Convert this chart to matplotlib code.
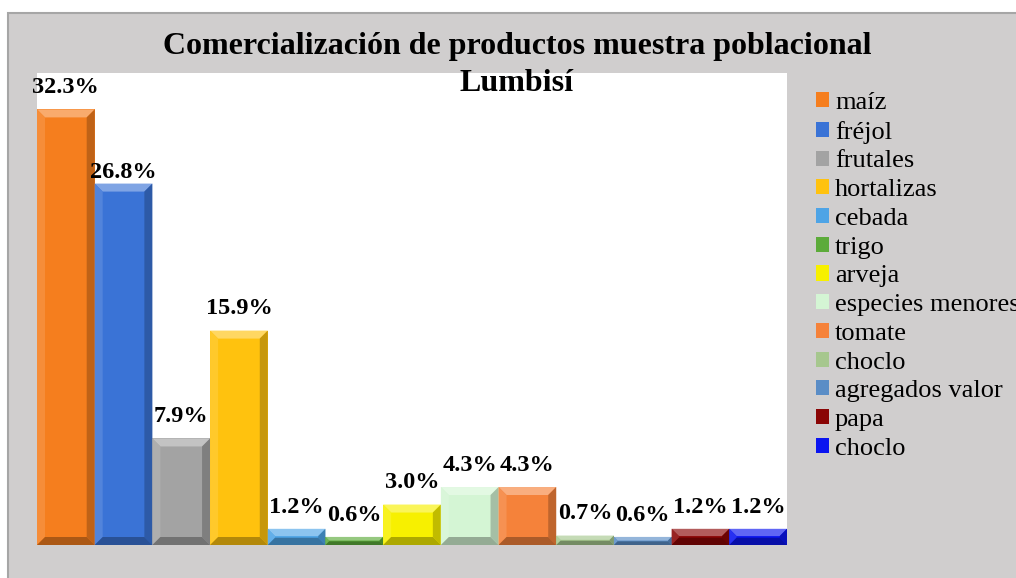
import matplotlib
matplotlib.use("Agg")
import matplotlib.pyplot as plt
from matplotlib.patches import Rectangle, Polygon
import matplotlib.colors as mcolors
import numpy as np

categories = ["maíz", "fréjol", "frutales", "hortalizas", "cebada", "trigo", "arveja",
              "especies menores", "tomate", "choclo", "agregados valor", "papa", "choclo"]
values = [32.3, 26.8, 7.9, 15.9, 1.2, 0.6, 3.0, 4.3, 4.3, 0.7, 0.6, 1.2, 1.2]
value_labels = ["32.3%", "26.8%", "7.9%", "15.9%", "1.2%", "0.6%", "3.0%", "4.3%", "4.3%",
                "0.7%", "0.6%", "1.2%", "1.2%"]
colors = ["#F57E1E", "#3A73D6", "#A3A3A3", "#FFC20E", "#4EA4E6", "#5CAB3A", "#F7F000",
          "#D4F5D4", "#F5823A", "#A6C78E", "#5A8DC6", "#8A0505", "#0A14F0"]
title = "Comercialización de productos muestra poblacional\nLumbisí"

W, H = 1016, 578
fig = plt.figure(figsize=(W / 100, H / 100), dpi=100)
fig.patch.set_facecolor("white")

# outer gray chart frame
frame = Rectangle((8 / W, -0.05), 1.2, (H - 13) / H + 0.05, transform=fig.transFigure,
                  facecolor="#D0CECE", edgecolor="#A6A6A6", linewidth=1.5, zorder=-10)
fig.patches.append(frame)

ax_l, ax_r, ax_t, ax_b = 37, 787, 73, 545
ax = fig.add_axes([ax_l / W, (H - ax_b) / H, (ax_r - ax_l) / W, (ax_b - ax_t) / H])
ax.set_zorder(1)
ax.set_facecolor("white")
for s in ax.spines.values():
    s.set_visible(False)
ax.set_xticks([])
ax.set_yticks([])
ymax = 35
n = len(values)
ax.set_xlim(-0.5, n - 0.5)
ax.set_ylim(0, ymax)

x = np.arange(n)
bars = ax.bar(x, values, width=1.0, color=colors, edgecolor="none", zorder=2)
for b, lab in zip(bars, categories):
    b.set_label(lab)

# bevel effect
px_x = (ax_r - ax_l) / n
px_y = (ax_b - ax_t) / ymax
bev = 8


def shade(c, f):
    r, g, bb = mcolors.to_rgb(c)
    if f > 0:
        return (r + (1 - r) * f, g + (1 - g) * f, bb + (1 - bb) * f)
    return (r * (1 + f), g * (1 + f), bb * (1 + f))


for xi, v, c in zip(x, values, colors):
    x0, x1 = xi - 0.5, xi + 0.5
    dy = min(bev / px_y, v * 0.45)
    dx = min(bev / px_x, dy * px_y / px_x)
    top = [(x0, v), (x1, v), (x1 - dx, v - dy), (x0 + dx, v - dy)]
    left = [(x0, 0), (x0, v), (x0 + dx, v - dy), (x0 + dx, dy)]
    right = [(x1, 0), (x1, v), (x1 - dx, v - dy), (x1 - dx, dy)]
    bot = [(x0, 0), (x1, 0), (x1 - dx, dy), (x0 + dx, dy)]
    for pts, f in [(top, 0.35), (left, 0.12), (right, -0.22), (bot, -0.3)]:
        ax.add_patch(Polygon(pts, closed=True, facecolor=shade(c, f), edgecolor="none", zorder=3))

# label offsets in points (the second label sits right on its bar in the original)
label_offset = {1: 0.5}
for i, (xi, v, lab) in enumerate(zip(x, values, value_labels)):
    ax.annotate(lab, (xi, v), xytext=(0, label_offset.get(i, 8)), textcoords="offset points",
                ha="center", va="bottom", fontsize=17.5, fontweight="bold",
                family="Liberation Serif", annotation_clip=False, zorder=5)

fig.text(517 / W, 1 - 65 / H, title, ha="center", va="center", fontsize=23, fontweight="bold",
         family="Liberation Serif", linespacing=1.4, zorder=6)

leg = fig.legend(handles=list(bars), labels=categories, loc="upper left",
                 bbox_to_anchor=(816 / W, 1 - 92 / H), frameon=False,
                 prop={"family": "Liberation Serif", "size": 19},
                 handlelength=0.5, handleheight=0.5, handletextpad=0.22, labelspacing=0.255,
                 borderpad=0, borderaxespad=0)

fig.savefig("out.png", dpi=100)
